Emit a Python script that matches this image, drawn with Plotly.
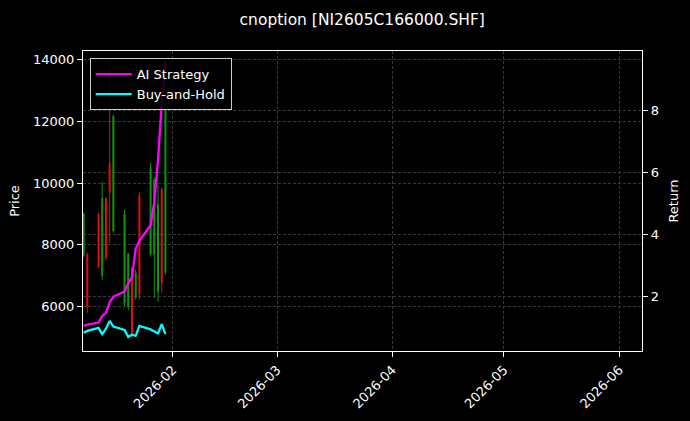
import plotly.graph_objects as go
from plotly.subplots import make_subplots

# daily bars of the option contract
dates = [
    "2026-01-08", "2026-01-09", "2026-01-12", "2026-01-13", "2026-01-14",
    "2026-01-15", "2026-01-16", "2026-01-19", "2026-01-20", "2026-01-21",
    "2026-01-22", "2026-01-23", "2026-01-26", "2026-01-27", "2026-01-28",
    "2026-01-29", "2026-01-30",
]
open_px = [7650, 7700, 9000, 7000, 9500, 10650, 8450, 6100, 6000, 7250,
           6300, 9600, 7700, 7700, 6500, 9800, 7100]
high_px = [9050, 7750, 9050, 10040, 9530, 13900, 12210, 9140, 7750, 7290,
           7200, 9690, 10655, 10170, 9945, 9847, 12600]
low_px = [7600, 5800, 7250, 6870, 7500, 8070, 8390, 6000, 5900, 5000,
          6226, 6226, 7617, 6290, 6160, 6450, 7035]
close_px = [9000, 6000, 7300, 9500, 7600, 9700, 12150, 9000, 7700, 5100,
            7100, 6400, 10500, 10100, 9300, 6780, 12400]

# cumulative returns (right axis)
ai_return = [1.06, 1.10, 1.17, 1.38, 1.48, 1.82, 2.00, 2.17, 2.43, 2.62,
             3.55, 3.80, 4.30, 5.05, 6.40, 8.20, 9.55]
bh_return = [0.84, 0.90, 1.00, 0.80, 0.97, 1.22, 1.04, 0.93, 0.71, 0.78,
             0.74, 1.06, 0.95, 0.88, 0.82, 1.12, 0.80]

title_text = "cnoption [NI2605C166000.SHF]"
font_name = "DejaVu Sans"
grid_col = "#383838"

fig = make_subplots(specs=[[{"secondary_y": True}]])

fig.add_trace(go.Candlestick(
    x=dates, open=open_px, high=high_px, low=low_px, close=close_px,
    increasing=dict(line=dict(color="#0a9a0a", width=1), fillcolor="#0a9a0a"),
    decreasing=dict(line=dict(color="#e01010", width=1), fillcolor="#e01010"),
    whiskerwidth=0, showlegend=False, hoverinfo="skip",
), secondary_y=False)

fig.add_trace(go.Scatter(
    x=dates, y=ai_return, mode="lines", name="AI Strategy",
    line=dict(color="#ff00ff", width=2.3),
), secondary_y=True)
fig.add_trace(go.Scatter(
    x=dates, y=bh_return, mode="lines", name="Buy-and-Hold",
    line=dict(color="#00ffff", width=2.3),
), secondary_y=True)

fig.update_layout(
    width=690, height=421,
    margin=dict(l=83, r=48, t=51, b=70),
    paper_bgcolor="black", plot_bgcolor="black",
    font=dict(family=font_name, size=13, color="white"),
    title=dict(text=title_text, x=0.525, xref="container", y=0.953,
               yref="container", xanchor="center", yanchor="middle",
               font=dict(size=15.5, color="white")),
    boxgap=0.62,
    legend=dict(x=0.012, y=0.976, xanchor="left", yanchor="top",
                bgcolor="rgba(0,0,0,0.85)", bordercolor="#cccccc", borderwidth=1,
                font=dict(size=13, color="white"), tracegroupgap=0,
                itemwidth=36),
    showlegend=True,
)

fig.update_xaxes(
    type="date", range=["2026-01-07 20:00", "2026-06-07 03:00"],
    domain=[0, 1],
    rangeslider_visible=False, automargin=False,
    tickvals=["2026-02-01", "2026-03-01", "2026-04-01", "2026-05-01", "2026-06-01"],
    tickformat="%Y-%m", tickangle=-45, tickfont=dict(size=13),
    showline=True, linecolor="white", linewidth=1.2, mirror=True,
    ticks="outside", ticklen=5, tickcolor="white",
    showgrid=True, gridcolor=grid_col, griddash="3px,2px", gridwidth=0.8,
    zeroline=False,
)
fig.update_yaxes(
    range=[4568, 14268], tickvals=[6000, 8000, 10000, 12000, 14000],
    tickformat="d", automargin=False, tickfont=dict(size=13),
    title=dict(text="Price", standoff=10, font=dict(size=13)),
    showline=True, linecolor="white", linewidth=1.2,
    ticks="outside", ticklen=5, tickcolor="white",
    showgrid=True, gridcolor=grid_col, griddash="3px,2px", gridwidth=0.8,
    zeroline=False, secondary_y=False,
)
fig.update_yaxes(
    range=[0.255, 9.90], tickvals=[2, 4, 6, 8], automargin=False,
    tickfont=dict(size=13),
    title=dict(text="Return", standoff=10, font=dict(size=13)),
    showline=True, linecolor="white", linewidth=1.2,
    ticks="outside", ticklen=5, tickcolor="white",
    showgrid=True, gridcolor=grid_col, griddash="3px,2px", gridwidth=0.8,
    zeroline=False, secondary_y=True,
)

# drop the browser's default page margin so the figure sits at the corner
fig.write_html("out.html",
               config={"displayModeBar": False},
               post_script="document.body.style.margin='0';"
                           "document.body.style.background='black';")
